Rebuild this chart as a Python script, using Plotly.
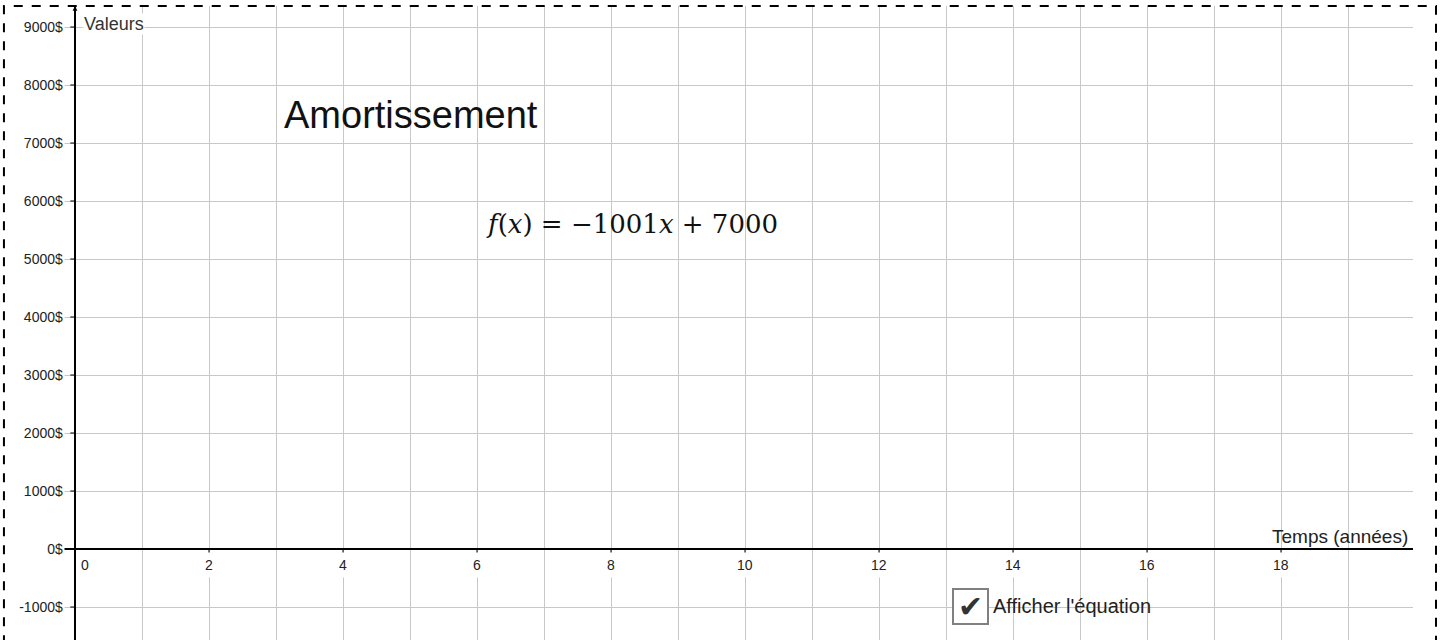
import plotly.graph_objects as go

# Data
x_ticks = [0, 2, 4, 6, 8, 10, 12, 14, 16, 18]
x_labels = ["0", "2", "4", "6", "8", "10", "12", "14", "16", "18"]
y_ticks = [-1000, 0, 1000, 2000, 3000, 4000, 5000, 6000, 7000, 8000, 9000]
y_labels = ["-1000$", "0$", "1000$", "2000$", "3000$", "4000$", "5000$",
            "6000$", "7000$", "8000$", "9000$"]
slope = -1001
intercept = 7000

x_range = [-0.836, 19.97]
y_range = [-1569, 9362]

grid_col = "#c8c8c8"
font_fam = "Liberation Sans, Arial, sans-serif"

fig = go.Figure()
fig.add_trace(go.Scatter(x=[], y=[], mode="markers", hoverinfo="skip"))

# tick labels on the axes (white boxes cut the grid like GeoGebra does)
for v, lab in zip(y_ticks, y_labels):
    fig.add_annotation(x=0, y=v, text=lab, showarrow=False, xanchor="right",
                       yanchor="middle", xshift=-10, width=52, align="right",
                       bgcolor="white", borderpad=1,
                       font=dict(family=font_fam, size=14, color="#222"))
    fig.add_shape(type="line", x0=-0.07, x1=0, y0=v, y1=v,
                  line=dict(color="black", width=1))

for v, lab in zip(x_ticks, x_labels):
    fig.add_annotation(x=v, y=0, text=lab, showarrow=False, xanchor="center",
                       yanchor="top", yshift=-3, xshift=10 if v == 0 else 0,
                       bgcolor="white", borderpad=4,
                       font=dict(family=font_fam, size=14, color="#222"))
    if v != 0:
        fig.add_shape(type="line", x0=v, x1=v, y0=0, y1=-70,
                      line=dict(color="black", width=1))

# axis titles
fig.add_annotation(x=0.12, y=9050, text="Valeurs", showarrow=False,
                   xanchor="left", yanchor="middle", bgcolor="white", borderpad=0,
                   font=dict(family=font_fam, size=18, color="#333"))
fig.add_annotation(x=19.93, y=210, text="Temps (années)", showarrow=False,
                   xanchor="right", yanchor="middle",
                   font=dict(family=font_fam, size=19, color="#222"))

# arrow on top of the y axis
fig.add_annotation(x=0, y=y_range[1], ax=0, ay=25, showarrow=True,
                   arrowhead=2, arrowsize=0.8, arrowwidth=1.2, arrowcolor="black",
                   text="")

# title and equation
fig.add_annotation(x=3.09, y=7480, text="Amortissement", showarrow=False,
                   xanchor="left", yanchor="middle",
                   font=dict(family=font_fam, size=38, color="#111"))
eq = f"<i>f</i>(<i>x</i>) = −{abs(slope)}<i>x</i> + {intercept}"
fig.add_annotation(x=6.1, y=5600, text=eq, showarrow=False,
                   xanchor="left", yanchor="middle",
                   font=dict(family="DejaVu Serif, Liberation Serif, serif",
                             size=26, color="#111"))

# checkbox
fig.add_annotation(x=13.36, y=-990, text="✔", showarrow=False,
                   xanchor="center", yanchor="middle", width=33, height=33,
                   bgcolor="white", bordercolor="#808080", borderwidth=2, borderpad=0,
                   font=dict(family="DejaVu Sans", size=30, color="#333"))
fig.add_annotation(x=13.67, y=-990, text="Afficher l'équation", showarrow=False,
                   xanchor="left", yanchor="middle",
                   font=dict(family=font_fam, size=20, color="#222"))

# dashed frame around the view
fig.add_shape(type="rect", xref="paper", yref="paper",
              x0=-0.0108, x1=1.0165, y0=-0.02, y1=1.0,
              line=dict(color="black", width=2, dash="dash"))

fig.update_layout(
    width=1440, height=640,
    margin=dict(l=19, r=27, t=6, b=0),
    paper_bgcolor="white", plot_bgcolor="white",
    showlegend=False,
    xaxis=dict(range=x_range, dtick=1, tick0=0, showgrid=True, gridcolor=grid_col,
               gridwidth=1, zeroline=True, zerolinecolor="black", zerolinewidth=1.5,
               showticklabels=False, ticks="", showline=False, fixedrange=True),
    yaxis=dict(range=y_range, dtick=1000, tick0=0, showgrid=True, gridcolor=grid_col,
               gridwidth=1, zeroline=True, zerolinecolor="black", zerolinewidth=1.5,
               showticklabels=False, ticks="", showline=False, fixedrange=True),
)

fig.write_html("out.html", config={"displayModeBar": False},
               post_script="document.body.style.margin='0';")
